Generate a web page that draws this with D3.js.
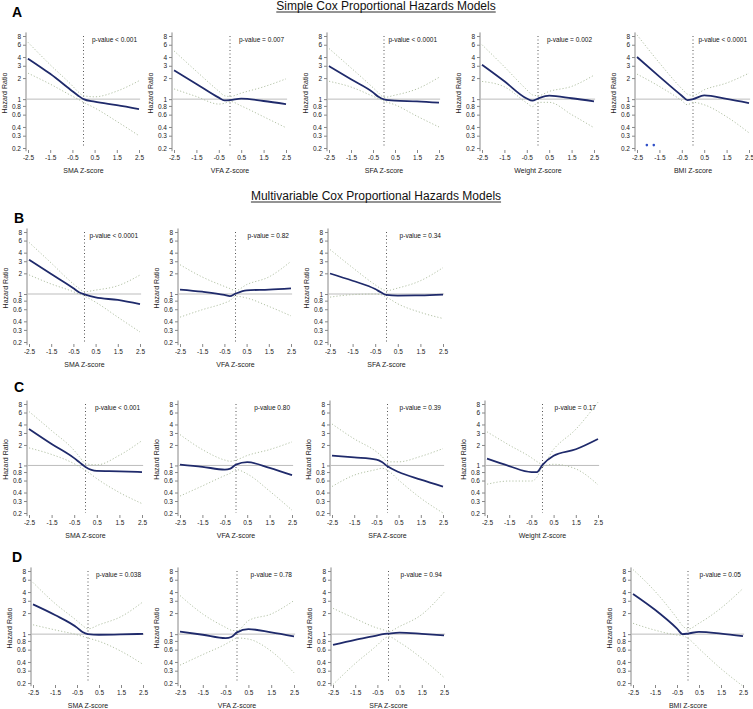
<!DOCTYPE html>
<html><head><meta charset="utf-8">
<script src="https://cdn.jsdelivr.net/npm/d3@7"></script>
<style>body{margin:0;background:#fff} svg{display:block} text{font-family:"Liberation Sans",Arial,sans-serif}</style>
</head><body><svg id="c" width="753" height="709"></svg>
<script>
// ---------- DATA ----------
const zGrid = [-2.5, -1.5, -0.5, -0.25, 0, 0.5, 1.5, 2.5];
const xTicks = [-2.5, -1.5, -0.5, 0.5, 1.5, 2.5];
const yTicks = [0.2, 0.3, 0.4, 0.6, 0.8, 1, 2, 3, 4, 6, 8];
const sectionTitles = ["Simple Cox Proportional Hazards Models", "Multivariable Cox Proportional Hazards Models"];
const panelLetters = ["A", "B", "C", "D"];

// A: simple models
const A_SMA_hr = [3.8, 2.3, 1.3, 1.13, 1.0, 0.92, 0.82, 0.72];
const A_SMA_hi = [6.5, 3.1, 1.55, 1.28, 1.12, 1.08, 1.3, 1.83];
const A_SMA_lo = [2.35, 1.64, 1.1, 1.0, 0.9, 0.75, 0.48, 0.30];
const A_VFA_hr = [2.58, 1.65, 1.05, 0.96, 0.97, 1.02, 0.94, 0.85];
const A_VFA_hi = [4.9, 2.5, 1.3, 1.12, 1.09, 1.22, 1.5, 1.95];
const A_VFA_lo = [1.4, 1.09, 0.85, 0.87, 0.93, 0.8, 0.56, 0.39];
const A_SFA_hr = [2.97, 1.92, 1.25, 1.08, 0.99, 0.95, 0.93, 0.89];
const A_SFA_hi = [5.3, 2.8, 1.46, 1.23, 1.06, 1.14, 1.4, 2.05];
const A_SFA_lo = [1.8, 1.49, 1.1, 1.02, 0.94, 0.83, 0.57, 0.4];
const A_WT_hr = [3.1, 1.8, 1.02, 0.95, 1.02, 1.12, 1.03, 0.93];
const A_WT_hi = [6.0, 2.9, 1.36, 1.15, 1.12, 1.29, 1.52, 2.2];
const A_WT_lo = [1.79, 1.5, 0.88, 0.78, 0.9, 0.9, 0.6, 0.39];
const A_BMI_hr = [4.0, 2.1, 1.12, 0.97, 1.0, 1.13, 1.01, 0.88];
const A_BMI_hi = [8.3, 3.3, 1.41, 1.18, 1.13, 1.36, 1.7, 2.35];
const A_BMI_lo = [2.28, 1.52, 0.95, 0.83, 0.9, 0.83, 0.56, 0.33];
const A_BMI_dotsX = [-2.06, -1.75];
const A_BMI_dotsY = [0.22, 0.22];

// B: multivariable
const B_SMA_hr = [3.16, 1.95, 1.21, 1.06, 0.99, 0.89, 0.82, 0.71];
const B_SMA_hi = [5.65, 2.83, 1.4, 1.21, 1.08, 1.14, 1.32, 1.89];
const B_SMA_lo = [1.9, 1.4, 1.08, 1.0, 0.93, 0.76, 0.46, 0.28];
const B_VFA_hr = [1.16, 1.08, 0.97, 0.93, 1.01, 1.13, 1.16, 1.21];
const B_VFA_hi = [2.67, 1.77, 1.29, 1.2, 1.12, 1.37, 1.77, 2.99];
const B_VFA_lo = [0.46, 0.59, 0.74, 0.8, 0.93, 0.875, 0.66, 0.48];
const B_SFA_hr = [1.99, 1.56, 1.18, 1.06, 0.97, 0.95, 0.955, 0.98];
const B_SFA_hi = [4.45, 2.42, 1.36, 1.2, 1.12, 1.22, 1.56, 2.42];
const B_SFA_lo = [0.9, 0.98, 1.0, 0.98, 0.9, 0.72, 0.54, 0.44];

// C
const C_SMA_hr = [3.44, 2.07, 1.28, 1.1, 0.95, 0.83, 0.82, 0.8];
const C_SMA_hi = [6.2, 3.25, 1.66, 1.32, 1.06, 1.02, 1.41, 2.32];
const C_SMA_lo = [1.81, 1.45, 1.06, 0.95, 0.85, 0.64, 0.4, 0.275];
const C_VFA_hr = [1.03, 0.955, 0.87, 0.9, 1.03, 1.12, 0.92, 0.72];
const C_VFA_hi = [2.84, 1.71, 1.2, 1.15, 1.2, 1.4, 1.71, 2.22];
const C_VFA_lo = [0.355, 0.5, 0.71, 0.77, 0.87, 0.75, 0.42, 0.22];
const C_SFA_hr = [1.39, 1.31, 1.22, 1.12, 0.97, 0.8, 0.62, 0.49];
const C_SFA_hi = [4.07, 2.46, 1.59, 1.36, 1.13, 1.13, 1.36, 1.77];
const C_SFA_lo = [0.49, 0.72, 0.87, 0.91, 0.85, 0.61, 0.33, 0.2];
const C_WT_hr = [1.26, 0.98, 0.8, 0.8, 1.02, 1.39, 1.73, 2.45];
const C_WT_hi = [3.12, 1.99, 1.3, 1.14, 1.04, 1.73, 3.4, 8.5];
const C_WT_lo = [0.53, 0.59, 0.59, 0.67, 0.96, 1.04, 0.89, 0.52];

// D
const D_SMA_hr = [2.67, 1.88, 1.24, 1.07, 1.0, 0.98, 0.99, 1.01];
const D_SMA_hi = [5.47, 2.75, 1.55, 1.33, 1.19, 1.36, 1.78, 2.9];
const D_SMA_lo = [1.36, 1.15, 0.98, 0.93, 0.88, 0.79, 0.57, 0.37];
const D_VFA_hr = [1.09, 0.98, 0.875, 0.91, 1.06, 1.18, 1.06, 0.93];
const D_VFA_hi = [3.57, 1.94, 1.25, 1.14, 1.12, 1.56, 1.94, 3.02];
const D_VFA_lo = [0.36, 0.51, 0.72, 0.8, 0.88, 0.85, 0.57, 0.28];
const D_SFA_hr = [0.70, 0.83, 0.96, 1.0, 1.02, 1.05, 1.01, 0.96];
const D_SFA_hi = [2.34, 1.67, 1.22, 1.16, 1.09, 1.29, 1.91, 3.96];
const D_SFA_lo = [0.19, 0.38, 0.7, 0.83, 0.92, 0.76, 0.45, 0.24];
const D_BMI_hr = [3.76, 2.23, 1.2, 1.0, 1.02, 1.08, 1.02, 0.935];
const D_BMI_hi = [8.4, 4.1, 1.69, 1.32, 1.18, 1.43, 2.36, 4.5];
const D_BMI_lo = [1.43, 1.14, 0.97, 0.95, 0.87, 0.62, 0.32, 0.18];

const xLabels = ["SMA Z-score", "VFA Z-score", "SFA Z-score", "Weight Z-score", "BMI Z-score"];
const pValues = ["p-value < 0.001", "p-value = 0.007", "p-value < 0.0001", "p-value = 0.002", "p-value < 0.0001",
                 "p-value < 0.0001", "p-value = 0.82", "p-value = 0.34",
                 "p-value < 0.001", "p-value 0.80", "p-value = 0.39", "p-value = 0.17",
                 "p-value = 0.038", "p-value = 0.78", "p-value = 0.94", "p-value = 0.05"];

// ---------- LAYOUT ----------
const rows = [{y8: 36, y02: 148}, {y8: 232, y02: 342}, {y8: 404, y02: 513}, {y8: 571, y02: 683}];
const panels = [
  {row: 0, x0: 28,  x1: 139, lab: 0, hr: A_SMA_hr, hi: A_SMA_hi, lo: A_SMA_lo},
  {row: 0, x0: 174, x1: 286, lab: 1, hr: A_VFA_hr, hi: A_VFA_hi, lo: A_VFA_lo},
  {row: 0, x0: 329, x1: 439, lab: 2, hr: A_SFA_hr, hi: A_SFA_hi, lo: A_SFA_lo},
  {row: 0, x0: 482, x1: 594, lab: 3, hr: A_WT_hr,  hi: A_WT_hi,  lo: A_WT_lo},
  {row: 0, x0: 637, x1: 749, lab: 4, hr: A_BMI_hr, hi: A_BMI_hi, lo: A_BMI_lo, dx: A_BMI_dotsX, dy: A_BMI_dotsY},
  {row: 1, x0: 29,  x1: 140, lab: 0, hr: B_SMA_hr, hi: B_SMA_hi, lo: B_SMA_lo},
  {row: 1, x0: 180, x1: 291, lab: 1, hr: B_VFA_hr, hi: B_VFA_hi, lo: B_VFA_lo},
  {row: 1, x0: 330, x1: 443, lab: 2, hr: B_SFA_hr, hi: B_SFA_hi, lo: B_SFA_lo},
  {row: 2, x0: 29,  x1: 142, lab: 0, hr: C_SMA_hr, hi: C_SMA_hi, lo: C_SMA_lo},
  {row: 2, x0: 180, x1: 292, lab: 1, hr: C_VFA_hr, hi: C_VFA_hi, lo: C_VFA_lo},
  {row: 2, x0: 332, x1: 443, lab: 2, hr: C_SFA_hr, hi: C_SFA_hi, lo: C_SFA_lo},
  {row: 2, x0: 487, x1: 598, lab: 3, hr: C_WT_hr,  hi: C_WT_hi,  lo: C_WT_lo},
  {row: 3, x0: 33,  x1: 143, lab: 0, hr: D_SMA_hr, hi: D_SMA_hi, lo: D_SMA_lo},
  {row: 3, x0: 180, x1: 294, lab: 1, hr: D_VFA_hr, hi: D_VFA_hi, lo: D_VFA_lo},
  {row: 3, x0: 333, x1: 444, lab: 2, hr: D_SFA_hr, hi: D_SFA_hi, lo: D_SFA_lo},
  {row: 3, x0: 633, x1: 743, lab: 4, hr: D_BMI_hr, hi: D_BMI_hi, lo: D_BMI_lo}
];

const svg = d3.select("#c");
const defs = svg.append("defs");

// section titles
[[386, 10], [376, 200]].forEach(([cx, by], i) => {
  const t = svg.append("text").attr("x", cx).attr("y", by).attr("text-anchor", "middle")
    .attr("font-size", 12).attr("fill", "#111").text(sectionTitles[i]);
  const w = t.node().getComputedTextLength();
  svg.append("line").attr("x1", cx - w / 2).attr("x2", cx + w / 2).attr("y1", by + 2).attr("y2", by + 2)
    .attr("stroke", "#111").attr("stroke-width", 0.9);
});
// panel letters
[[12, 17], [14, 223], [14, 392], [12, 562]].forEach(([x, y], i) => {
  svg.append("text").attr("x", x).attr("y", y).attr("font-size", 14).attr("font-weight", "bold")
    .attr("fill", "#000").text(panelLetters[i]);
});

panels.forEach((p, i) => {
  const r = rows[p.row];
  const x = d3.scaleLinear().domain([-2.5, 2.5]).range([p.x0, p.x1]);
  const y = d3.scaleLog().domain([0.2, 8]).range([r.y02, r.y8]);
  const axX = p.x0 - 2;
  const g = svg.append("g");

  const cid = "clip" + i;
  defs.append("clipPath").attr("id", cid).append("rect")
    .attr("x", axX).attr("y", y(9)).attr("width", x(2.6) - axX).attr("height", y(0.18) - y(9));

  // y axis
  const ya = g.append("g").attr("transform", `translate(${axX},0)`)
    .call(d3.axisLeft(y).tickValues(yTicks).tickFormat(d => String(d)).tickSize(3).tickPadding(2));
  ya.select(".domain").remove();
  ya.selectAll(".tick line").attr("stroke", "#888");
  ya.selectAll("text").attr("font-size", 6.5).attr("fill", "#222").attr("font-family", '"Liberation Sans",Arial,sans-serif');
  g.append("line").attr("x1", axX).attr("x2", axX).attr("y1", y(9)).attr("y2", y(0.18))
    .attr("stroke", "#888").attr("stroke-width", 1);

  // x axis (ticks only)
  const xa = g.append("g").attr("transform", `translate(0,${r.y02 + 2})`)
    .call(d3.axisBottom(x).tickValues(xTicks).tickFormat(d => String(d)).tickSize(3).tickPadding(2));
  xa.select(".domain").remove();
  xa.selectAll(".tick line").attr("stroke", "#888");
  xa.selectAll("text").attr("font-size", 6.5).attr("fill", "#222").attr("font-family", '"Liberation Sans",Arial,sans-serif');

  // axis titles
  g.append("text").attr("x", (p.x0 + p.x1) / 2).attr("y", r.y02 + 24.5).attr("text-anchor", "middle")
    .attr("font-size", 7).attr("fill", "#222").text(xLabels[p.lab]);
  g.append("text").attr("transform", `translate(${axX - 19},${y(1) - 6}) rotate(-90)`)
    .attr("text-anchor", "middle").attr("font-size", 7).attr("fill", "#222").text("Hazard Ratio");

  // reference lines
  g.append("line").attr("x1", axX).attr("x2", x(2.55)).attr("y1", y(1)).attr("y2", y(1))
    .attr("stroke", "#bdbdbd").attr("stroke-width", 1);
  g.append("line").attr("x1", x(0)).attr("x2", x(0)).attr("y1", y(8)).attr("y2", y(0.2))
    .attr("stroke", "#555").attr("stroke-width", 1).attr("stroke-dasharray", "1,2.5");

  const line = d3.line().x((d, k) => x(zGrid[k])).y(d => y(d)).curve(d3.curveMonotoneX);
  const plot = g.append("g").attr("clip-path", `url(#${cid})`);
  [p.hi, p.lo].forEach(arr => {
    plot.append("path").attr("d", line(arr)).attr("fill", "none")
      .attr("stroke", "#b3c2a6").attr("stroke-width", 1).attr("stroke-dasharray", "1.2,2");
  });
  plot.append("path").attr("d", line(p.hr)).attr("fill", "none")
    .attr("stroke", "#1f2a6b").attr("stroke-width", 1.8);

  if (p.dx) {
    p.dx.forEach((v, k) => {
      g.append("circle").attr("cx", x(v)).attr("cy", y(p.dy[k])).attr("r", 1.3).attr("fill", "#3050c8");
    });
  }

  // p-value
  g.append("text").attr("x", p.x1 - 2).attr("y", r.y8 + 6).attr("text-anchor", "end")
    .attr("font-size", 6.5).attr("fill", "#111").text(pValues[i]);
});
</script></body></html>
